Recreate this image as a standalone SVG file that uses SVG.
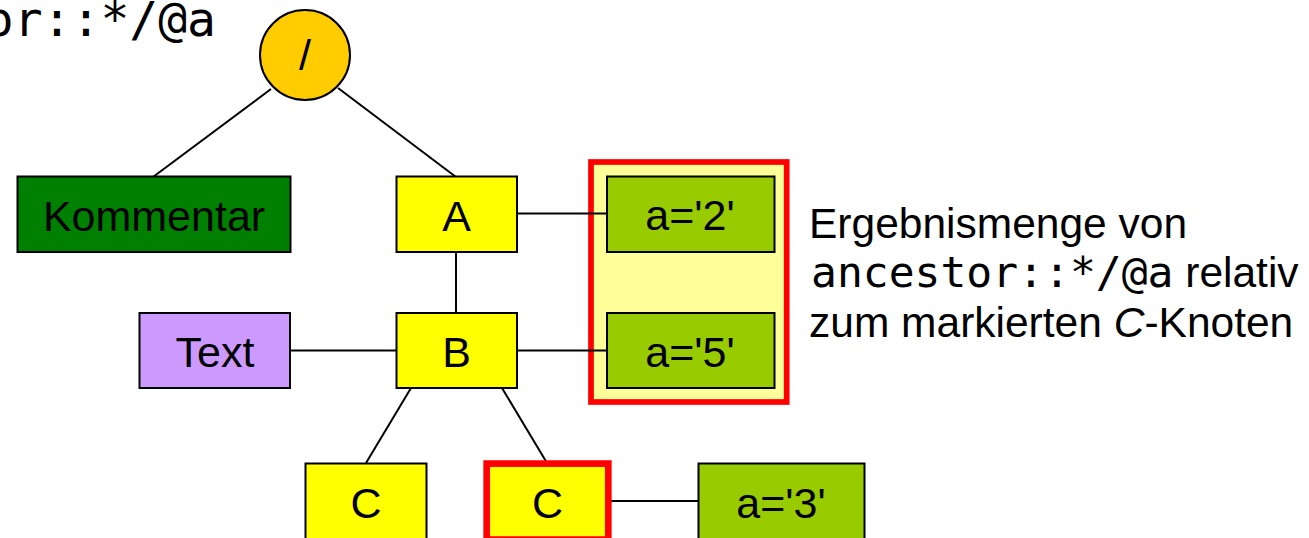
<svg xmlns="http://www.w3.org/2000/svg" width="1309" height="538" viewBox="0 0 1309 538">
<style>
.n{stroke:#000;stroke-width:2}
.lbl{font-family:"Liberation Sans",Arial,sans-serif;font-size:43px;fill:#000;text-anchor:middle}
.mono{font-family:"DejaVu Sans Mono",monospace}
.sans{font-family:"Liberation Sans",Arial,sans-serif;font-size:42.5px;fill:#000}
.c line{stroke:#000;stroke-width:2}
</style>
<rect width="1309" height="538" fill="#fff"/>
<text id="title" x="216" y="36" class="mono" font-size="48" text-anchor="end" fill="#000">or::*/@a</text>
<g id="result-frame"><rect x="591" y="162" width="195.7" height="240" fill="#ffff99" stroke="#ff0000" stroke-width="5.7"/></g>
<g class="c" id="connectors">
<line x1="271" y1="89" x2="153" y2="177"/>
<line x1="338" y1="88" x2="456" y2="177"/>
<line x1="456" y1="252" x2="456" y2="313"/>
<line x1="517" y1="213.5" x2="607" y2="213.5"/>
<line x1="290" y1="350.5" x2="396" y2="350.5"/>
<line x1="517" y1="350.5" x2="607" y2="350.5"/>
<line x1="411" y1="388" x2="366" y2="463"/>
<line x1="502" y1="388" x2="547" y2="463"/>
<line x1="611" y1="501" x2="698" y2="501"/>
</g>
<g id="root"><circle cx="305" cy="55" r="45" fill="#ffcc00" class="n"/><text x="305" y="70" class="lbl">/</text></g>
<g id="kommentar"><rect x="17.5" y="176.5" width="273" height="75.5" fill="#008000" class="n"/><text x="154" y="230.5" class="lbl">Kommentar</text></g>
<g id="A"><rect x="396.5" y="176.5" width="120.5" height="75.5" fill="#ffff00" class="n"/><text x="456.5" y="230.5" class="lbl">A</text></g>
<g id="a2"><rect x="607" y="176.5" width="167.5" height="75.5" fill="#99cc00" class="n"/><text x="690" y="230" class="lbl">a='2'</text></g>
<g id="text"><rect x="139.5" y="313" width="150.5" height="75" fill="#cc99ff" class="n"/><text x="215" y="367" class="lbl">Text</text></g>
<g id="B"><rect x="396.5" y="313" width="120.5" height="75" fill="#ffff00" class="n"/><text x="456.5" y="367" class="lbl">B</text></g>
<g id="a5"><rect x="607" y="313" width="167.5" height="75" fill="#99cc00" class="n"/><text x="690" y="367" class="lbl">a='5'</text></g>
<g id="C1"><rect x="305.5" y="463.5" width="121" height="76" fill="#ffff00" class="n"/><text x="366" y="518" class="lbl">C</text></g>
<g id="C2"><rect x="486.7" y="463.6" width="121.6" height="76" fill="#ffff00" stroke="#ff0000" stroke-width="6.7"/><text x="547.5" y="518" class="lbl">C</text></g>
<g id="a3"><rect x="698.5" y="463.5" width="166" height="76" fill="#99cc00" class="n"/><text x="781" y="518" class="lbl">a='3'</text></g>
<g id="caption">
<text x="809" y="238" class="sans">Ergebnismenge von</text>
<text x="811" y="286.7" class="sans"><tspan class="mono" font-size="43">ancestor::*/@a</tspan> relativ</text>
<text x="809" y="337" class="sans">zum markierten <tspan font-style="italic">C</tspan>-Knoten</text>
</g>
</svg>
